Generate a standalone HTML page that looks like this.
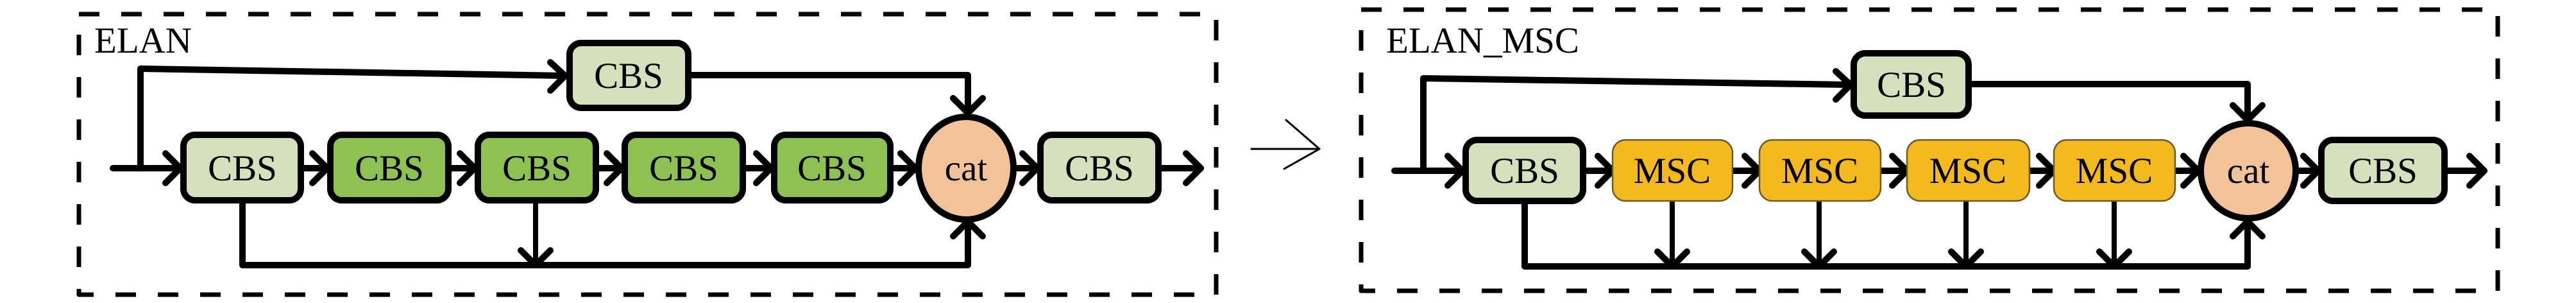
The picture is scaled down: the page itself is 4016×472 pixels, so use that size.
<!DOCTYPE html>
<html><head><meta charset="utf-8"><style>
html,body{margin:0;padding:0;background:#fff;}
svg{display:block;}
svg text{font-family:"Liberation Serif","DejaVu Serif",serif;font-size:57px;fill:#000;text-anchor:middle;}
</style></head><body>
<svg width="4016" height="472" viewBox="0 0 4016 472" xmlns="http://www.w3.org/2000/svg" font-family="Liberation Serif, serif">
<g fill="none" stroke="#000" stroke-linecap="round" stroke-linejoin="round">
<rect x="123" y="22" width="1773" height="437" stroke-width="7" stroke-dasharray="32 34" stroke-linecap="butt"/>
<rect x="2122" y="15" width="1772" height="438" stroke-width="7" stroke-dasharray="32 34" stroke-linecap="butt"/>
<line x1="1951" y1="232" x2="2056" y2="232" stroke-width="3"/>
<polyline points="2005,187 2057,232 2002,263" stroke-width="3"/>

<g stroke-width="10">
<line x1="176" y1="262" x2="1872" y2="262"/>
<polyline points="219,262 219,107 880,118"/>
<polyline points="1078,117 1509,117 1509,176"/>
<polyline points="378,317 378,413 1509,413 1509,347"/>
<line x1="835" y1="317" x2="835" y2="411" stroke-width="8"/>
</g>
<g stroke-width="10">
<polyline points="258,239 281,262 258,285"/>
<polyline points="487,239 510,262 487,285"/>
<polyline points="717,239 740,262 717,285"/>
<polyline points="946,239 969,262 946,285"/>
<polyline points="1179,239 1202,262 1179,285"/>
<polyline points="1404,239 1427,262 1404,285"/>
<polyline points="1594,239 1617,262 1594,285"/>
<polyline points="1849,239 1872,262 1849,285"/>
<polyline points="858,97 881,118 858,141"/>
<polyline points="1486,153 1509,176 1532,153"/>
<polyline points="1486,368 1509,345 1532,368"/>
<polyline points="812,390 835,413 858,390"/>
</g>

<g stroke-width="10">
<line x1="2174" y1="266" x2="3873" y2="266"/>
<polyline points="2219,266 2219,122 2882,132"/>
<polyline points="3074,131 3504,131 3504,185"/>
<polyline points="2377,318 2377,415 3504,415 3504,347"/>
</g>
<g stroke-width="8">
<line x1="2607" y1="313" x2="2607" y2="413"/>
<line x1="2836" y1="313" x2="2836" y2="413"/>
<line x1="3065" y1="313" x2="3065" y2="413"/>
<line x1="3296" y1="313" x2="3296" y2="413"/>
</g>
<g stroke-width="10">
<polyline points="2257,243 2280,266 2257,289"/>
<polyline points="2491,243 2514,266 2491,289"/>
<polyline points="2720,243 2743,266 2720,289"/>
<polyline points="2950,243 2973,266 2950,289"/>
<polyline points="3179,243 3202,266 3179,289"/>
<polyline points="3404,243 3427,266 3404,289"/>
<polyline points="3591,243 3614,266 3591,289"/>
<polyline points="3850,243 3873,266 3850,289"/>
<polyline points="2862,111 2885,132 2862,155"/>
<polyline points="3481,164 3504,187 3527,164"/>
<polyline points="3481,368 3504,345 3527,368"/>
<polyline points="2584,392 2607,415 2630,392"/>
<polyline points="2813,392 2836,415 2859,392"/>
<polyline points="3042,392 3065,415 3088,392"/>
<polyline points="3273,392 3296,415 3319,392"/>
</g>
</g>

<g stroke="#000" stroke-width="10">
<rect x="888" y="67" width="185" height="101" rx="18" fill="#d5e0bc"/>
<rect x="286" y="210" width="183" height="102" rx="18" fill="#d5e0bc"/>
<rect x="515" y="210" width="184" height="102" rx="18" fill="#8dc152"/>
<rect x="745" y="210" width="184" height="102" rx="18" fill="#8dc152"/>
<rect x="974" y="210" width="184" height="102" rx="18" fill="#8dc152"/>
<rect x="1207" y="210" width="181" height="102" rx="18" fill="#8dc152"/>
<ellipse cx="1506" cy="262" rx="74" ry="80" fill="#f2c298"/>
<rect x="1622" y="210" width="184" height="102" rx="18" fill="#d5e0bc"/>
</g>
<text x="980" y="137">CBS</text>
<text x="378" y="281">CBS</text>
<text x="607" y="281">CBS</text>
<text x="837" y="281">CBS</text>
<text x="1066" y="281">CBS</text>
<text x="1297" y="281">CBS</text>
<text x="1506" y="281">cat</text>
<text x="1714" y="281">CBS</text>
<text x="147" y="82" style="text-anchor:start">ELAN</text>

<g stroke="#000" stroke-width="10">
<rect x="2890" y="83" width="179" height="97" rx="18" fill="#d5e0bc"/>
<rect x="2285" y="218" width="183" height="95" rx="18" fill="#d5e0bc"/>
<circle cx="3505" cy="266" r="74" fill="#f2c298"/>
<rect x="3619" y="218" width="192" height="95" rx="18" fill="#d5e0bc"/>
</g>
<g stroke="#6b5a2a" stroke-width="2.5" fill="#f4b91e">
<rect x="2514" y="218" width="187" height="95" rx="20"/>
<rect x="2743" y="218" width="189" height="95" rx="20"/>
<rect x="2973" y="218" width="191" height="95" rx="20"/>
<rect x="3202" y="218" width="189" height="95" rx="20"/>
</g>
<text x="2980" y="151">CBS</text>
<text x="2377" y="285">CBS</text>
<text x="2607" y="285">MSC</text>
<text x="2837" y="285">MSC</text>
<text x="3068" y="285">MSC</text>
<text x="3296" y="285">MSC</text>
<text x="3505" y="285">cat</text>
<text x="3715" y="285">CBS</text>
<text x="2161" y="82" style="text-anchor:start">ELAN_MSC</text>
</svg>
</body></html>
